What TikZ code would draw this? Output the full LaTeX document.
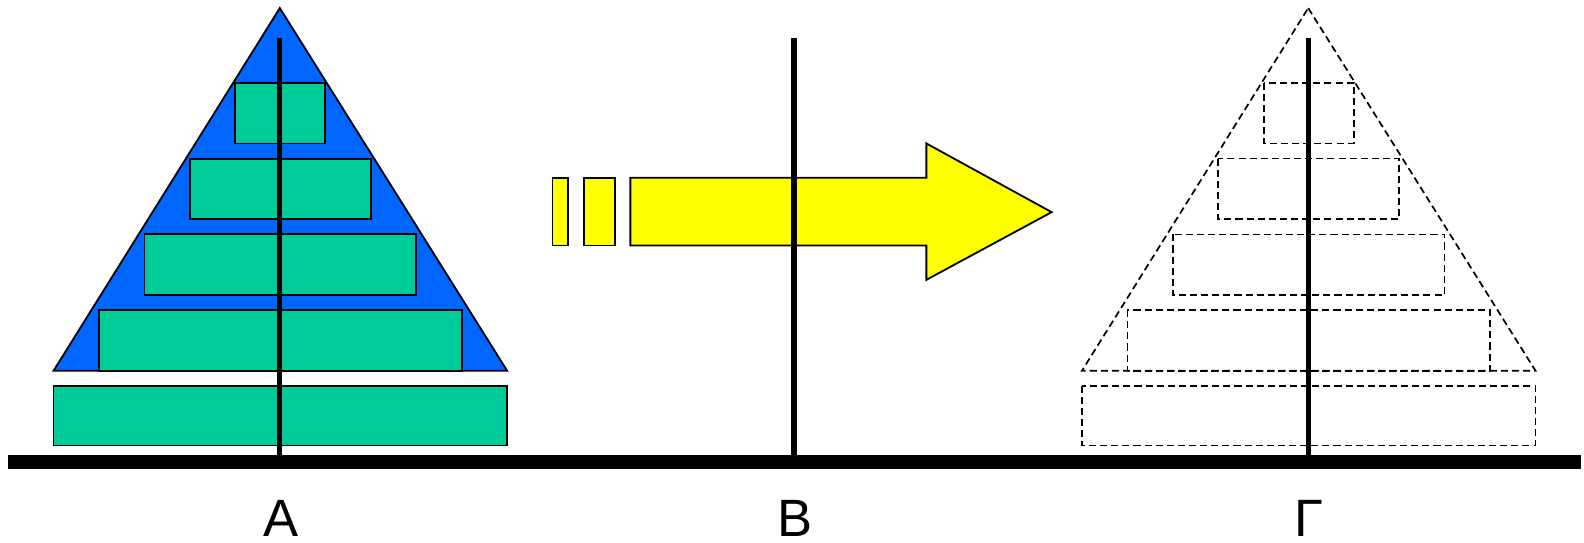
\documentclass[tikz,border=0pt]{standalone}
\usepackage{fontspec}
\setmainfont{Liberation Sans}
\begin{document}
\begin{tikzpicture}[x=0.5pt,y=-0.5pt,
  disk/.style={draw=black,line width=0.9pt,fill=diskgreen},
  ghost/.style={draw=black,line width=0.85pt,dash pattern=on 3.5pt off 2pt},
  peg/.style={line width=2.6pt},
  lbl/.style={font=\fontsize{26}{30}\selectfont,inner sep=0pt,anchor=base}]
\definecolor{diskgreen}{HTML}{00CC99}
\definecolor{pyrblue}{HTML}{0066FF}
\definecolor{arrowyellow}{HTML}{FFFF00}
\useasboundingbox (0,0) rectangle (1568,537);
% left pyramid
\fill[pyrblue,draw=black,line width=0.9pt] (277,8) -- (502,367) -- (53,367) -- cycle;
\foreach \i in {0,...,3}{
  \draw[disk] ({233-45*\i},{82+75*\i}) rectangle ({322+45*\i},{142+75*\i});
}
\draw[disk] (53,382) rectangle (502,441);
% right ghost pyramid
\draw[ghost] (1295,8) -- (1520,367) -- (1071,367) -- cycle;
\foreach \i in {0,...,3}{
  \draw[ghost] ({1251-45*\i},{82+75*\i}) rectangle ({1340+45*\i},{142+75*\i});
}
\draw[ghost] (1071,382) rectangle (1520,441);
% arrow
\draw[fill=arrowyellow,line width=0.9pt] (547,176) rectangle (562,243);
\draw[fill=arrowyellow,line width=0.9pt] (578,176) rectangle (609,243);
\draw[fill=arrowyellow,line width=0.9pt] (624,176) -- (917,176) -- (917,142) -- (1041,210) -- (917,277) -- (917,243) -- (624,243) -- cycle;
% ground and pegs
\coordinate (gl) at (8,457);
\coordinate (gr) at (1565,457);
\coordinate (ta) at (277,38);
\coordinate (tb) at (786,38);
\coordinate (tc) at (1295,38);
\coordinate (ba) at (277,452);
\coordinate (bb) at (786,452);
\coordinate (bc) at (1295,452);
\draw[line width=7pt] (gl) -- (gr);
\draw[peg] (ta) -- (ba);
\draw[peg] (tb) -- (bb);
\draw[peg] (tc) -- (bc);
% labels
\node[lbl] (la) at (278,531) {Α};
\node[lbl] (lb) at (787,531) {Β};
\node[lbl] (lc) at (1296,531) {Γ};
\end{tikzpicture}
\end{document}
